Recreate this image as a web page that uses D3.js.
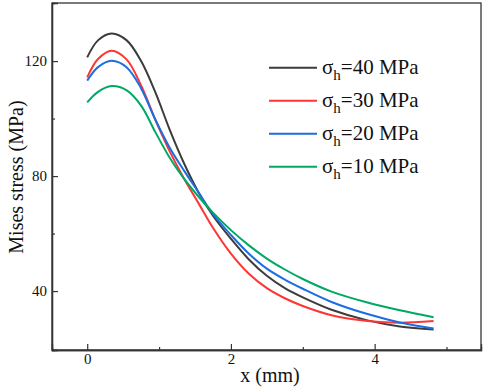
<!DOCTYPE html>
<html><head><meta charset="utf-8">
<script src="https://cdn.jsdelivr.net/npm/d3@7"></script>
<style>body{margin:0;background:#fff}svg{display:block}text{font-family:"Liberation Serif","Times New Roman",serif;fill:#111}</style>
</head><body><svg id="c" width="484" height="392"></svg>
<script>
const xs  = [0, 0.15, 0.34, 0.55, 0.75, 0.95, 1.15, 1.35, 1.55, 1.75, 2.0, 2.25, 2.5, 2.75, 3.0, 3.4, 3.9, 4.35, 4.82];
const s40 = [121.3, 127.2, 129.6, 127.2, 120.0, 109.0, 96.0, 84.3, 74.3, 66.2, 58.2, 51.0, 45.3, 41.0, 37.8, 33.5, 29.8, 27.7, 26.6];
const s30 = [114.3, 120.7, 123.6, 120.5, 111.5, 99.5, 88.5, 79.0, 70.5, 62.0, 53.0, 46.0, 41.0, 37.5, 34.8, 31.6, 29.6, 29.0, 29.6];
const s20 = [113.2, 117.9, 120.1, 117.8, 110.5, 99.5, 89.8, 81.8, 74.3, 66.8, 59.5, 53.0, 47.8, 44.0, 40.8, 36.2, 32.0, 29.1, 27.0];
const s10 = [105.6, 109.3, 111.3, 109.8, 104.5, 95.2, 86.3, 79.0, 72.8, 67.3, 61.2, 55.9, 51.3, 47.5, 44.2, 39.8, 36.0, 33.3, 30.9];
const seriesNames = ["40", "30", "20", "10"];
const colors = ["#3c3c3c", "#ff3535", "#1a6ee0", "#00a865"];
const xMajor = [0, 2, 4], xMinor = [1, 3, 5];
const yMajor = [40, 80, 120], yMinor = [60, 100];

const svg = d3.select("#c");
const L = 52, R = 481, T = 3, B = 350;
const x = d3.scaleLinear().domain([-0.49, 5.48]).range([L, R]);
const y = d3.scaleLinear().domain([19.5, 140.2]).range([B, T]);

// frame
svg.append("rect").attr("x", L).attr("y", T).attr("width", R - L).attr("height", B - T)
  .attr("fill", "none").attr("stroke", "#333").attr("stroke-width", 1.3);

// axes (ticks inward)
svg.append("g").attr("transform", `translate(0,${B})`)
  .call(d3.axisBottom(x).tickValues(xMajor).tickSize(-6).tickPadding(3).tickFormat(d3.format("d")));
svg.append("g").attr("transform", `translate(0,${B})`)
  .call(d3.axisBottom(x).tickValues(xMinor).tickSize(-3).tickFormat(""));
svg.append("g").attr("transform", `translate(${L},0)`)
  .call(d3.axisLeft(y).tickValues(yMajor).tickSize(-6).tickPadding(5).tickFormat(d3.format("d")));
svg.append("g").attr("transform", `translate(${L},0)`)
  .call(d3.axisLeft(y).tickValues(yMinor).tickSize(-3).tickFormat(""));
svg.selectAll(".domain").attr("stroke", "#333").attr("stroke-width", 1.3);
svg.selectAll(".tick line").attr("stroke", "#333").attr("stroke-width", 1.2);
svg.selectAll(".tick text").style("font-family", "'Liberation Serif',serif").style("font-size", "15px").attr("fill", "#111");

// axis titles
svg.append("text").attr("x", 270).attr("y", 382).attr("text-anchor", "middle")
  .style("font-size", "20px").text("x (mm)");
svg.append("text").attr("transform", "translate(23,177) rotate(-90)").attr("text-anchor", "middle")
  .style("font-size", "20px").text("Mises stress (MPa)");

// lines
const data = [s40, s30, s20, s10];
const line = d3.line().x((d, i) => x(xs[i])).y(d => y(d)).curve(d3.curveCatmullRom.alpha(0.5));
data.forEach((s, k) => {
  svg.append("path").datum(s).attr("d", line).attr("fill", "none")
    .attr("stroke", colors[k]).attr("stroke-width", 2);
});

// legend
const ly0 = 67.7, ldy = 33;
seriesNames.forEach((n, k) => {
  const yy = ly0 + k * ldy;
  svg.append("line").attr("x1", 269).attr("x2", 317).attr("y1", yy).attr("y2", yy)
    .attr("stroke", colors[k]).attr("stroke-width", 2);
  const t = svg.append("text").attr("x", 322).attr("y", yy + 6.5).style("font-size", "21px");
  t.append("tspan").text("σ");
  t.append("tspan").attr("dy", 6).style("font-size", "15px").text("h");
  t.append("tspan").attr("dy", -6).text("=" + n + " MPa");
});
</script></body></html>
